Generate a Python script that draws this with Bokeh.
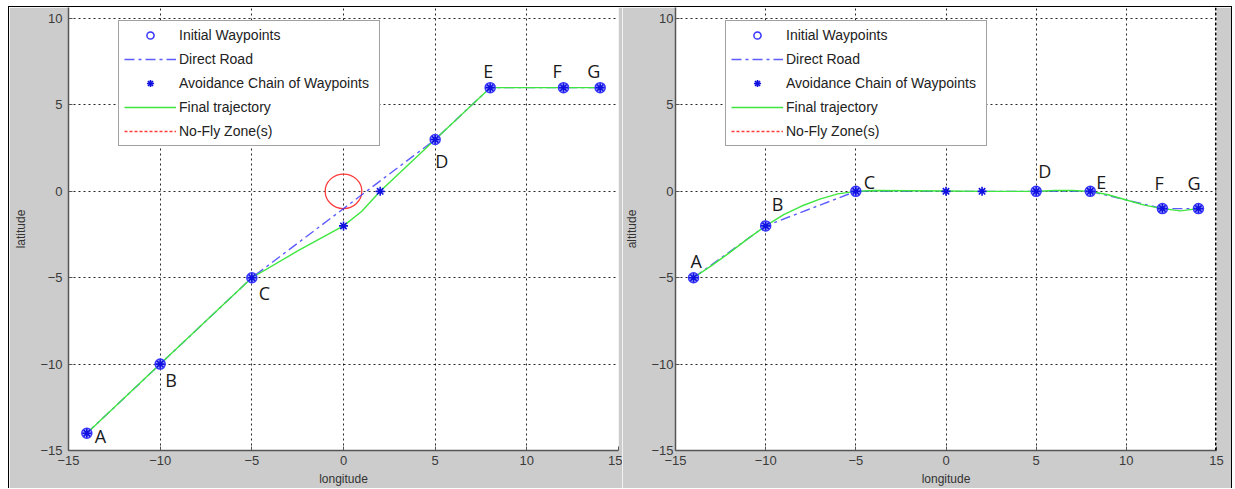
from bokeh.plotting import figure
from bokeh.layouts import row, column
from bokeh.models import Legend, LegendItem, FixedTicker, Span, Spacer
from bokeh.core.properties import value
from bokeh.embed import file_html
from bokeh.resources import INLINE

# ---------------- data ----------------
wp_names = ["A", "B", "C", "D", "E", "F", "G"]
wp_lon = [-14, -10, -5, 5, 8, 12, 14]
wp_lat = [-14, -10, -5, 3, 6, 6, 6]
wp_alt = [-5, -2, 0, 0, 0, -1, -1]

chain_lon = [-14, -10, -5, 0, 2, 5, 8, 12, 14]
chain_lat = [-14, -10, -5, -2, 0, 3, 6, 6, 6]
chain_alt = [-5, -2, 0, 0, 0, 0, 0, -1, -1]

traj_lat_lon = [-14, -10, -5, -2.5, 0, 1, 2, 5, 8, 12, 14]
traj_lat = [-14, -10, -5, -3.45, -2, -1.15, 0, 3, 6, 6, 6]

traj_alt_lon = [-14, -13, -12, -11, -10, -9, -8, -7, -6, -5, -4, 0, 2, 5, 6, 7, 8, 9, 10, 11, 12, 13, 14]
traj_alt = [-5, -4.3, -3.55, -2.75, -2, -1.35, -0.85, -0.45, -0.15, 0, 0.05, 0.02, 0, 0, 0.05, 0.05, 0,
            -0.2, -0.5, -0.8, -1.0, -1.13, -1.0]

nfz_lon = [0]
nfz_lat = [0]
nfz_diam = [2]

x_ticks = [-15, -10, -5, 0, 5, 10, 15]
y_ticks = [-15, -10, -5, 0, 5, 10]

legend_labels = ["Initial Waypoints", "Direct Road", "Avoidance Chain of Waypoints",
                 "Final trajectory", "No-Fly Zone(s)"]

# label pixel offsets (style)
lat_lbl_dx = [8, 5, 7, 0, -7, -11, -13]
lat_lbl_dy = [3, 16, 15, 21, -17, -17, -17]
alt_lbl_dx = [-3, 6, 8, 2, 6, -8, -11]
alt_lbl_dy = [-17, -22, -9, -20, -9, -26, -26]

GRAY = "#cccccc"
BLUE = "#3535ff"
GREEN = "#3fe63f"
RED = "#ff3b3b"


def make_fig(width, mbl, mbr, ylabel, lbl_standoff):
    p = figure(width=width, height=481, x_range=(-15, 15), y_range=(-15, 10.64),
               output_backend="svg", toolbar_location=None,
               min_border_left=mbl, min_border_right=mbr, min_border_top=0, min_border_bottom=38,
               background_fill_color="white", border_fill_color=GRAY, outline_line_color=None)
    p.xaxis.ticker = FixedTicker(ticks=x_ticks)
    p.yaxis.ticker = FixedTicker(ticks=y_ticks)
    p.xaxis.axis_label = "longitude"
    p.yaxis.axis_label = ylabel
    p.axis.major_label_text_font = "Liberation Sans"
    p.axis.major_label_text_font_size = "13px"
    p.axis.major_label_text_color = "#3a3a3a"
    p.axis.axis_label_text_font = "Liberation Sans"
    p.axis.axis_label_text_font_size = "12px"
    p.axis.axis_label_text_font_style = "normal"
    p.axis.axis_label_text_color = "#333333"
    p.axis.axis_line_color = "#555555"
    p.axis.axis_line_width = 1.5
    p.axis.major_tick_line_color = "#555555"
    p.axis.major_tick_in = 4
    p.axis.major_tick_out = 0
    p.axis.minor_tick_line_color = None
    p.xaxis.major_label_standoff = 5
    p.xaxis.axis_label_standoff = 4
    p.yaxis.major_label_standoff = lbl_standoff
    p.yaxis.axis_label_standoff = 9
    p.grid.grid_line_color = "black"
    p.grid.grid_line_dash = "2 3"
    p.grid.grid_line_alpha = 0.85
    return p


def populate(p, road_y, chain_y, traj_x, traj_y, lbl_dx, lbl_dy, nfz=False):
    if nfz:
        p.ellipse(x=nfz_lon, y=nfz_lat, width=nfz_diam, height=nfz_diam,
                  fill_color=None, line_color=RED, line_width=1.3)
    r_road = p.line(wp_lon, road_y, line_color=BLUE, line_width=1.4, line_dash="10 4 3 4", line_alpha=0.8)
    r_traj = p.line(traj_x, traj_y, line_color=GREEN, line_width=1.4)
    r_init = p.scatter(wp_lon, road_y, marker="circle", size=10, fill_color=BLUE, fill_alpha=0.0,
                       line_color=BLUE, line_width=1.5)
    p.scatter(wp_lon, road_y, marker="circle", size=9, fill_color="#6060ff", fill_alpha=0.55,
              line_color=None)
    r_chain = p.scatter(chain_lon, chain_y, marker="asterisk", size=9, line_color="#1010e0", line_width=1.6)
    # zero-length line at the zone centre: only used to draw the legend entry
    r_nfz = p.line(nfz_lon * 2, nfz_lat * 2, line_color=RED, line_width=1.3, line_dash="3 2")
    p.text(x=wp_lon, y=road_y, text=wp_names, x_offset=lbl_dx, y_offset=lbl_dy,
           text_font=value("Open Sans"), text_font_size="18px", text_color="#1a1a1a",
           text_align="left", text_baseline="alphabetic")
    renderers = [r_init, r_road, r_chain, r_traj, r_nfz]
    items = [LegendItem(label=lab, renderers=[r]) for lab, r in zip(legend_labels, renderers)]
    legend = Legend(items=items, location=(50, 304), padding=5, spacing=6, margin=0,
                    glyph_width=52, glyph_height=18, label_height=18, label_width=195,
                    label_standoff=3, label_text_font="Liberation Sans", label_text_font_size="14px",
                    label_text_color="#222222", border_line_color="#444444", border_line_width=1,
                    background_fill_color="white", background_fill_alpha=1.0)
    p.add_layout(legend)


p1 = make_fig(613, 59, 4, "latitude", 6)
populate(p1, wp_lat, chain_lat, traj_lat_lon, traj_lat, lat_lbl_dx, lat_lbl_dy, nfz=True)

p2 = make_fig(609, 47, 15, "altitude", 2)
populate(p2, wp_alt, chain_alt, traj_alt_lon, traj_alt, alt_lbl_dx, alt_lbl_dy)
p2.add_layout(Span(location=15, dimension="height", line_color="black", line_width=3, line_dash="3 2"))

inner = row(p1, p2, styles={"border-top": "1px solid black", "border-left": "1px solid black",
                            "border-right": "1px solid black"})
layout = column(Spacer(height=6, width=10), row(Spacer(width=8, height=10), inner))

open("out.html", "w").write(file_html(layout, INLINE))
